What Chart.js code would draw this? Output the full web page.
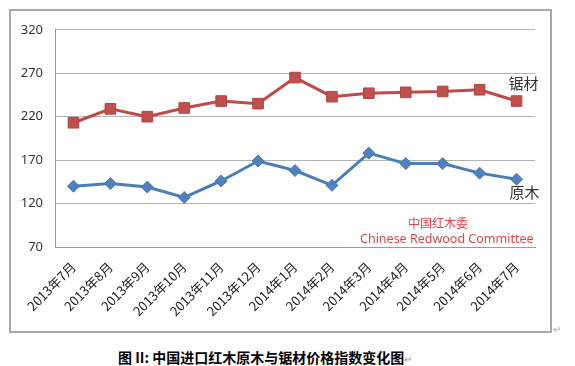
<!DOCTYPE html>
<html><head><meta charset="utf-8">
<script src="https://cdn.jsdelivr.net/npm/chart.js@4.4.1/dist/chart.umd.min.js"></script>
<style>
html,body{margin:0;padding:0;background:#fff;width:575px;height:366px;overflow:hidden;position:relative;font-family:"Noto Sans","Noto Sans CJK SC",sans-serif;}
#frame{position:absolute;left:9px;top:9px;width:539px;height:320px;border:2px solid #a8a8a8;}
#wrap{position:absolute;left:10px;top:10px;width:539px;height:320px;}
.wm{position:absolute;color:#e0474a;white-space:nowrap;font-family:"Noto Sans","Noto Sans CJK SC",sans-serif;}
#cap{position:absolute;left:118px;top:347px;font:bold 14px "Noto Sans CJK SC",sans-serif;color:#000;white-space:nowrap;}
#cap span{font-weight:normal;color:#999;font-size:10px;}
#mark{position:absolute;left:553px;top:322px;color:#aaa;font-size:10px;}
</style></head>
<body>
<div id="frame"></div>
<div id="wrap"><canvas id="c" width="539" height="320"></canvas></div>
<div class="wm" style="left:408px;top:214px;font-size:12px;font-family:'Noto Sans CJK SC',sans-serif;">中国红木委</div>
<div class="wm" style="left:360px;top:230px;font-size:12.5px;">Chinese Redwood Committee</div>
<div id="cap">图 II: 中国进口红木原木与锯材价格指数变化图<span>↵</span></div>
<div id="mark">↵</div>
<script>
const categories = ["2013年7月","2013年8月","2013年9月","2013年10月","2013年11月","2013年12月","2014年1月","2014年2月","2014年3月","2014年4月","2014年5月","2014年6月","2014年7月"];
const sawnValues = [213,229,220,230,238,235,265,243,247,248,249,251,238];
const logValues  = [140,143,139,127,146,169,158,141,178,166,166,155,148];
const seriesNames = ["锯材","原木"];
const yTicks = [70,120,170,220,270,320];

const endLabels = {
  id:'endLabels',
  afterDatasetsDraw(chart){
    const ctx = chart.ctx;
    ctx.save();
    ctx.font = '15px "Noto Sans CJK SC", sans-serif';
    ctx.fillStyle = '#333';
    ctx.textAlign = 'left';
    ctx.textBaseline = 'middle';
    const m0 = chart.getDatasetMeta(0).data; const p0 = m0[m0.length-1];
    const m1 = chart.getDatasetMeta(1).data; const p1 = m1[m1.length-1];
    ctx.fillText(seriesNames[0], p0.x - 8, p0.y - 18);
    ctx.fillText(seriesNames[1], p1.x - 7, p1.y + 13);
    ctx.restore();
  }
};

new Chart(document.getElementById('c'), {
  type:'line',
  data:{
    labels:categories,
    datasets:[
      {label:seriesNames[0],data:sawnValues,borderColor:'#be4b48',backgroundColor:'#c0504d',pointBackgroundColor:'#c0504d',pointBorderColor:'#b04542',pointStyle:'rect',pointRadius:7.5,pointBorderWidth:1,borderWidth:3,tension:0},
      {label:seriesNames[1],data:logValues,borderColor:'#4a7ebb',backgroundColor:'#4f81bd',pointBackgroundColor:'#4f81bd',pointBorderColor:'#4578b5',pointStyle:'rectRot',pointRadius:6,pointBorderWidth:1,borderWidth:3,tension:0}
    ]
  },
  options:{
    responsive:false,animation:false,
    layout:{padding:{top:15,right:14,left:0,bottom:0}},
    plugins:{legend:{display:false},tooltip:{enabled:false}},
    scales:{
      x:{type:'category',offset:true,
        grid:{display:false,drawTicks:false},
        border:{display:true,color:'#9a9a9a',width:1},
        ticks:{autoSkip:false,minRotation:45,maxRotation:45,padding:12,color:'#222',font:{size:13,family:'"Noto Sans CJK SC", sans-serif'}},
        afterFit(s){s.height=83;}
      },
      y:{min:70,max:320,
        afterBuildTicks(s){s.ticks=yTicks.map(v=>({value:v}));},
        grid:{color:'#b4b4b4',drawTicks:false,lineWidth:1},
        border:{display:true,color:'#9a9a9a',width:1},
        ticks:{padding:12,color:'#333',font:{size:13,family:'"Noto Sans", sans-serif'}},
        afterFit(s){s.width=45;}
      }
    }
  },
  plugins:[endLabels]
});
</script>
</body></html>
